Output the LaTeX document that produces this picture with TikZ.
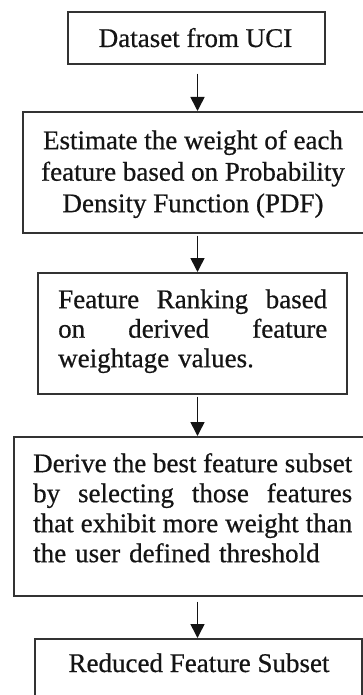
\documentclass[tikz,border=0pt]{standalone}
\usepackage{fontspec}
\setmainfont{Liberation Serif}[FakeBold=0.6]
\usetikzlibrary{arrows.meta}

\definecolor{edge}{HTML}{333333}
\definecolor{ink}{HTML}{141414}

% one justified line of a given width
\newcommand{\spreadline}[2]{\makebox[#1]{#2}}

\begin{document}
\begin{tikzpicture}[x=1pt, y=-1pt,
  stepbox/.style={draw=edge, line width=1.6pt, rectangle, inner sep=0pt, anchor=north west},
  txt/.style={inner sep=0pt, text=ink, font=\fontsize{27}{30}\selectfont},
  flow/.style={draw=ink, line width=1.6pt, -{Triangle[width=14pt,length=14pt]}}
]
\useasboundingbox (0,0) rectangle (363,695);

% process boxes (some run past the page edge)
\node[stepbox, minimum width=257pt, minimum height=52pt]  (b1) at (67,11)  {};
\node[stepbox, minimum width=350pt, minimum height=121pt] (b2) at (22,111) {};
\node[stepbox, minimum width=309pt, minimum height=121pt] (b3) at (37,272) {};
\node[stepbox, minimum width=359pt, minimum height=159pt] (b4) at (13,436) {};
\node[stepbox, minimum width=327pt, minimum height=90pt]  (b5) at (34,638) {};

% box texts
\node[txt, anchor=base] (t1) at (195.5,47) {Dataset from UCI};
\node[txt, anchor=north, align=center, font=\fontsize{27}{31.5}\selectfont] (t2) at (193,126.95)
  {\strut Estimate the weight of each\\ feature based on Probability\\ Density Function (PDF)};
\node[txt, anchor=north west, text width=269pt, align=left, font=\fontsize{27}{29.5}\selectfont] (t3) at (58,287.35)
  {\strut\spreadline{269pt}{Feature\hfill Ranking\hfill based}\\
   \spreadline{269pt}{on\hfill derived\hfill feature}\\
   weightage values.};
\node[txt, anchor=north west, text width=319pt, align=left] (t4) at (33,451)
  {\strut\spreadline{319pt}{Derive\hfill the\hfill best\hfill feature\hfill subset}\\
   \spreadline{319pt}{by\hfill selecting\hfill those\hfill features}\\
   \spreadline{319pt}{that\hfill exhibit\hfill more\hfill weight\hfill than}\\
   the user defined threshold};
\node[txt, anchor=base] (t5) at (199,672) {Reduced Feature Subset};

% flow arrows along a common axis
\coordinate (axis) at (197.5,0);
\draw[flow, shorten <=9pt] (b1.south -| axis) -- (b2.north -| axis);
\draw[flow, shorten <=2pt] (b2.south -| axis) -- (b3.north -| axis);
\draw[flow, shorten <=2pt] (b3.south -| axis) -- (b4.north -| axis);
\draw[flow, shorten <=5pt] (b4.south -| axis) -- (b5.north -| axis);
\end{tikzpicture}
\end{document}
